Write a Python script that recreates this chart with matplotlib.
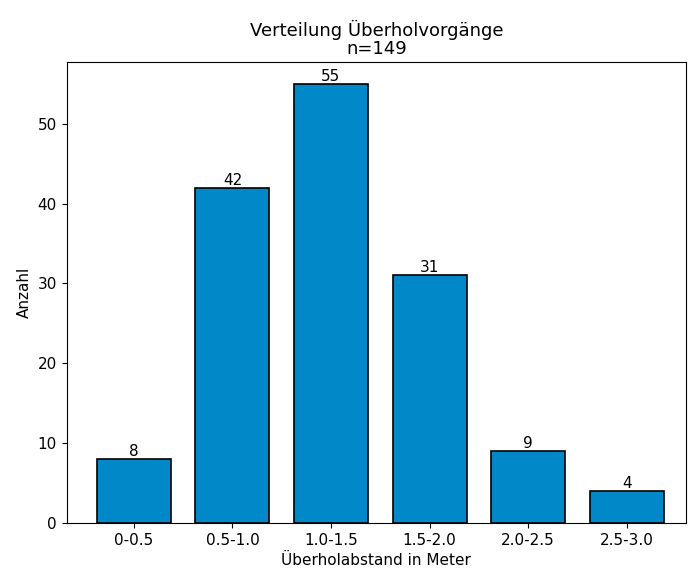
import matplotlib
matplotlib.use("Agg")
import matplotlib.pyplot as plt

# Daten
kategorien = ['0-0.5', '0.5-1.0', '1.0-1.5', '1.5-2.0', '2.0-2.5', '2.5-3.0']
anzahl = [8, 42, 55, 31, 9, 4]
gesamt = sum(anzahl)

fig, ax = plt.subplots(figsize=(6.95, 5.79), dpi=100)
fig.subplots_adjust(left=0.096, right=0.987, bottom=0.097, top=0.893)

bars = ax.bar(kategorien, anzahl, width=0.75, color='#0088c8', edgecolor='black', linewidth=1.2)
ax.bar_label(bars, fontsize=11, padding=0)
ax.set_xlim(-0.68, 5.6)

ax.set_title(f'Verteilung Überholvorgänge\nn={gesamt}', fontsize=13, linespacing=1.0)
ax.set_xlabel('Überholabstand in Meter', fontsize=11)
ax.set_ylabel('Anzahl', fontsize=11)
ax.tick_params(labelsize=11)

plt.savefig('out.png', dpi=100, facecolor='white')
